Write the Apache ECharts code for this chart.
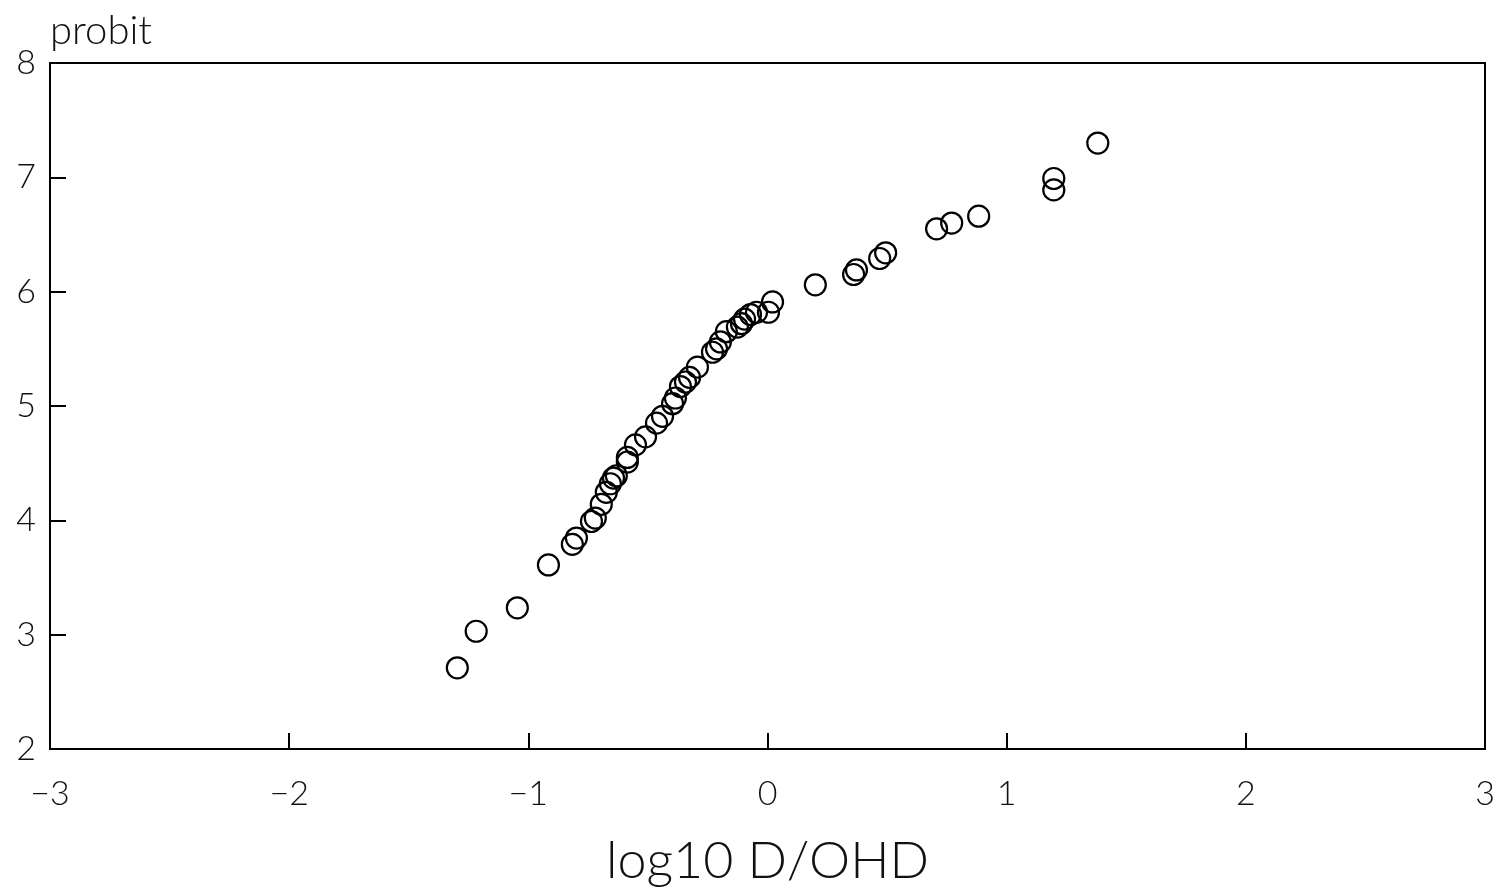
<!DOCTYPE html>
<html>
<head>
<meta charset="utf-8">
<script src="https://cdn.jsdelivr.net/npm/echarts@6/dist/echarts.min.js"></script>
<style>html,body{margin:0;padding:0;background:#fff;overflow:hidden;}#c{width:1498px;height:892px;}</style>
</head>
<body>
<div id="c"></div>
<script>
const xValues = [-1.297,-1.218,-1.046,-0.916,-0.816,-0.799,-0.736,-0.720,-0.695,-0.674,-0.657,-0.644,-0.632,-0.586,-0.586,-0.552,-0.510,-0.464,-0.439,-0.397,-0.385,-0.364,-0.343,-0.326,-0.293,-0.230,-0.213,-0.197,-0.172,-0.126,-0.109,-0.096,-0.071,-0.046,0.004,0.021,0.200,0.360,0.372,0.469,0.494,0.707,0.770,0.883,1.197,1.197,1.381];
const yValues = [2.71,3.03,3.235,3.61,3.79,3.845,3.99,4.02,4.14,4.245,4.32,4.37,4.39,4.51,4.55,4.66,4.73,4.85,4.91,5.02,5.07,5.17,5.21,5.25,5.34,5.47,5.50,5.56,5.65,5.69,5.72,5.76,5.80,5.82,5.82,5.91,6.06,6.15,6.19,6.29,6.34,6.55,6.60,6.66,6.99,6.89,7.30];
const xTicks = [-3,-2,-1,0,1,2,3];
const yTicks = [2,3,4,5,6,7,8];
const xTitle = 'log10 D/OHD';
const yTitle = 'probit';

const points = xValues.map((x, i) => [x, yValues[i]]);
const font = 'Lato, "Noto Sans", sans-serif';
const chart = echarts.init(document.getElementById('c'), null, {renderer: 'canvas'});
chart.setOption({
  animation: false,
  backgroundColor: '#fff',
  grid: {left: 50, right: 13, top: 63, bottom: 140, show: true, borderColor: '#000', borderWidth: 2, backgroundColor: 'transparent'},
  xAxis: {
    type: 'value', min: xTicks[0], max: xTicks[xTicks.length - 1], interval: 1,
    name: xTitle, nameLocation: 'middle', nameGap: 86,
    nameTextStyle: {fontSize: 52, color: '#111', fontFamily: font, fontWeight: 300},
    axisLine: {show: true, onZero: false, lineStyle: {color: '#000', width: 2}},
    axisTick: {show: true, inside: true, length: 16, lineStyle: {color: '#000', width: 2}},
    axisLabel: {fontSize: 34, color: '#111', margin: 28, fontFamily: font, fontWeight: 300,
      formatter: v => String(v).replace('-', '\u2212')},
    splitLine: {show: false}
  },
  yAxis: {
    type: 'value', min: yTicks[0], max: yTicks[yTicks.length - 1], interval: 1,
    name: yTitle, nameLocation: 'end', nameGap: 12,
    nameTextStyle: {fontSize: 40, color: '#111', fontFamily: font, fontWeight: 300, align: 'left', verticalAlign: 'bottom'},
    axisLine: {show: true, onZero: false, lineStyle: {color: '#000', width: 2}},
    axisTick: {show: true, inside: true, length: 16, lineStyle: {color: '#000', width: 2}},
    axisLabel: {fontSize: 34, color: '#111', margin: 14, fontFamily: font, fontWeight: 300, padding: [6, 0, 0, 0]},
    splitLine: {show: false}
  },
  series: [{
    type: 'scatter',
    data: points,
    symbol: 'circle',
    symbolSize: 21,
    itemStyle: {color: 'rgba(0,0,0,0)', borderColor: '#000', borderWidth: 2.2, opacity: 1}
  }]
});
</script>
</body>
</html>
